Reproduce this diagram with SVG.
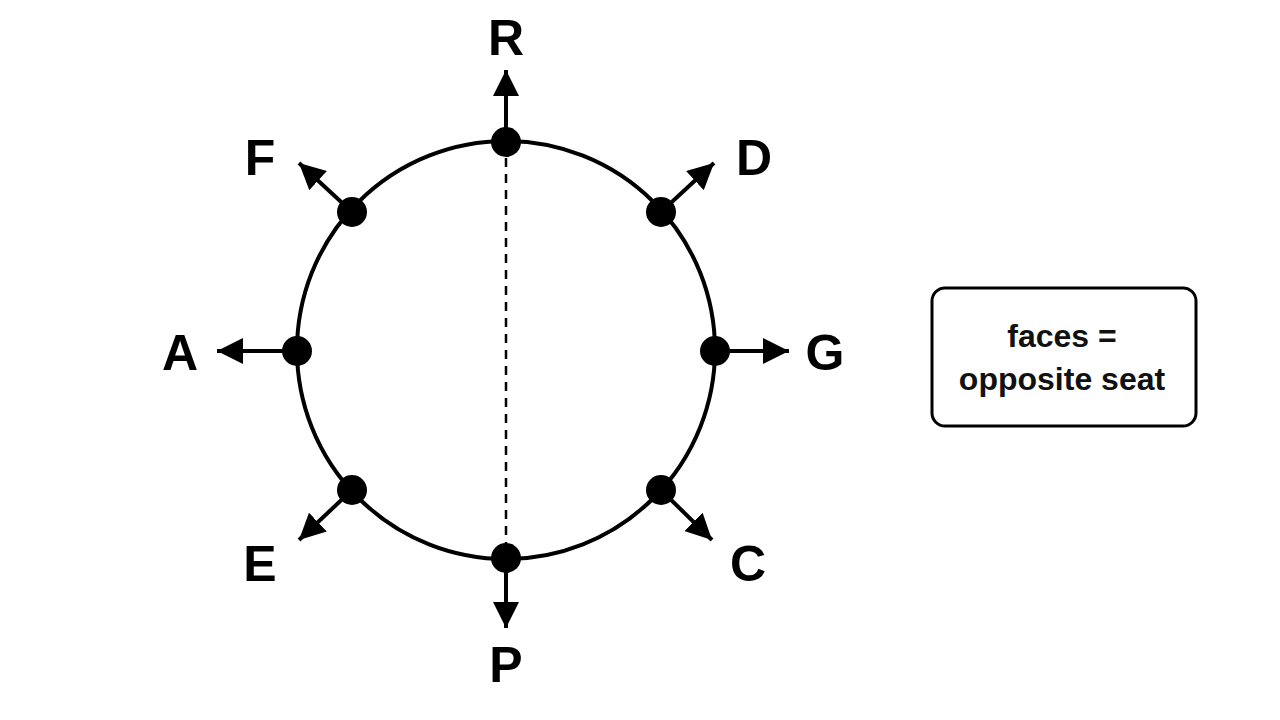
<svg xmlns="http://www.w3.org/2000/svg" width="1280" height="720" viewBox="0 0 1280 720">
<defs>
<marker id="ah" viewBox="0 0 10 10" refX="10" refY="5" markerWidth="6.5" markerHeight="6.5" markerUnits="strokeWidth" orient="auto">
<path d="M0,0 L10,5 L0,10 Z" fill="#000"/>
</marker>
<style>
.lbl{font-family:"Liberation Sans",Arial,sans-serif;font-weight:bold;font-size:50px;fill:#000;text-anchor:middle}
.note{font-family:"Liberation Sans",Arial,sans-serif;font-weight:bold;font-size:32px;fill:#111;text-anchor:middle}
.arr{stroke:#000;stroke-width:4;fill:none;marker-end:url(#ah)}
.dot{fill:#000}
</style>
</defs>
<rect width="1280" height="720" fill="#fff"/>
<g id="table">
<circle cx="506" cy="350" r="209" fill="none" stroke="#000" stroke-width="4"/>
<line x1="506" y1="142" x2="506" y2="558" stroke="#000" stroke-width="2.5" stroke-dasharray="9,7"/>
</g>
<g id="connectors">
<line class="arr" x1="506" y1="142" x2="506" y2="70"/>
<line class="arr" x1="506" y1="558" x2="506" y2="628"/>
<line class="arr" x1="297" y1="351" x2="217" y2="351"/>
<line class="arr" x1="715" y1="351" x2="789" y2="351"/>
<line class="arr" x1="352" y1="212" x2="299" y2="163"/>
<line class="arr" x1="661" y1="212" x2="714" y2="163"/>
<line class="arr" x1="352" y1="490" x2="299" y2="540"/>
<line class="arr" x1="661" y1="490" x2="712" y2="540"/>
</g>
<g id="seat-R"><circle class="dot" cx="506" cy="142" r="15"/><text class="lbl" x="506" y="55">R</text></g>
<g id="seat-D"><circle class="dot" cx="661" cy="212" r="15"/><text class="lbl" x="754" y="175">D</text></g>
<g id="seat-G"><circle class="dot" cx="715" cy="351" r="15"/><text class="lbl" x="825" y="370">G</text></g>
<g id="seat-C"><circle class="dot" cx="661" cy="490" r="15"/><text class="lbl" x="748" y="581">C</text></g>
<g id="seat-P"><circle class="dot" cx="506" cy="558" r="15"/><text class="lbl" x="506" y="682">P</text></g>
<g id="seat-E"><circle class="dot" cx="352" cy="490" r="15"/><text class="lbl" x="260" y="581">E</text></g>
<g id="seat-A"><circle class="dot" cx="297" cy="351" r="15"/><text class="lbl" x="180" y="370">A</text></g>
<g id="seat-F"><circle class="dot" cx="352" cy="212" r="15"/><text class="lbl" x="260" y="175">F</text></g>
<g id="note">
<rect x="932" y="288" width="264" height="138" rx="13" fill="#fff" stroke="#000" stroke-width="3"/>
<text class="note" x="1062" y="347">faces =</text>
<text class="note" x="1062" y="390">opposite seat</text>
</g>
</svg>
